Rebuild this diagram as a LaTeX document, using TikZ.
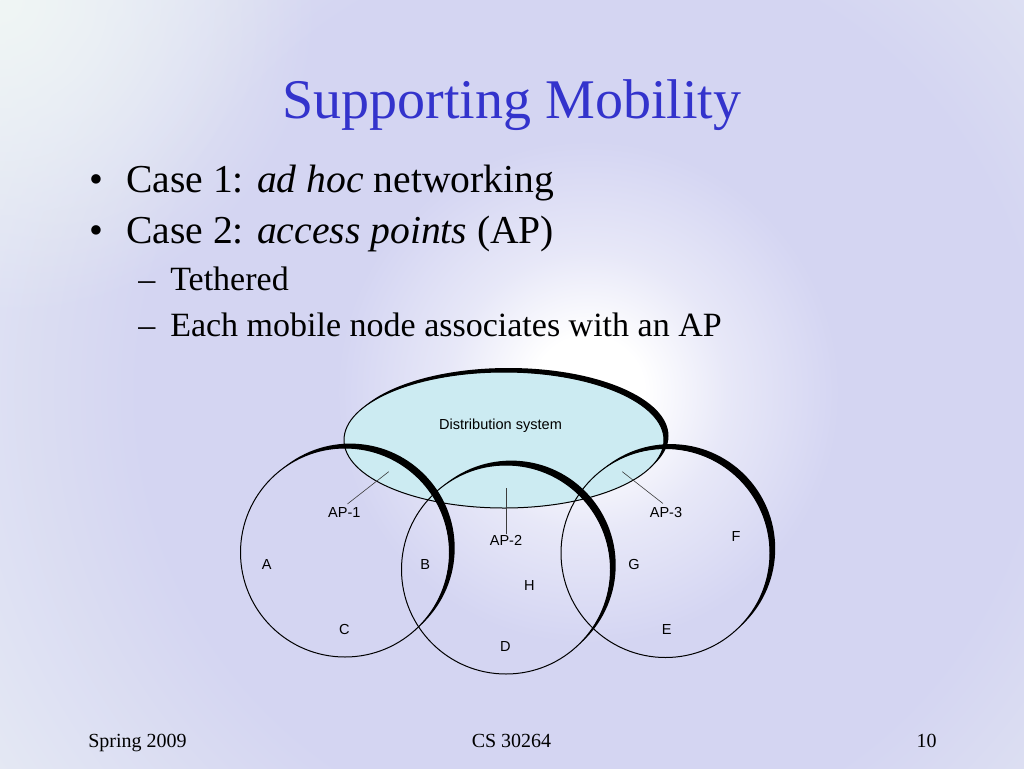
\documentclass[tikz,border=0pt]{standalone}
\usepackage{fontspec}
\setmainfont{Liberation Serif}
\newfontfamily\labelsans{Liberation Sans}
\usepackage{xcolor}
\usetikzlibrary{fadings}
\definecolor{slidebg}{RGB}{212,213,242}
\definecolor{cornerbg}{RGB}{240,246,245}
\definecolor{edgebg}{RGB}{228,232,243}
\definecolor{titleblue}{RGB}{51,51,204}
\definecolor{dsfill}{RGB}{204,235,242}
\pgfdeclareradialshading{slidewash}{\pgfpoint{0bp}{0bp}}{color(0bp)=(white); color(2bp)=(white); color(5bp)=(white!45!slidebg); color(9bp)=(slidebg); color(16bp)=(slidebg); color(25bp)=(edgebg); color(50bp)=(edgebg)}
\tikzfading[name=cornerfade, inner color=transparent!0, outer color=transparent!100]

\begin{document}
\begin{tikzpicture}[x=0.75pt,y=0.75pt,yscale=-1,xscale=1,
  outline/.style={color=black, line width=0.75pt},
  rim/.style={fill=black},
  apline/.style={color={rgb, 255:red, 60; green, 60; blue, 60 }, line width=0.45pt},
  tag/.style={inner sep=0.75pt, font=\labelsans\fontsize{10.9}{13}\selectfont},
  bulletline/.style={anchor=base west, inner sep=0pt, font=\fontsize{29.7}{34}\selectfont},
  subline/.style={anchor=base west, inner sep=0pt, font=\fontsize{25.5}{30}\selectfont},
  footline/.style={inner sep=0pt, font=\fontsize{15}{18}\selectfont}]
\useasboundingbox (0,0) rectangle (1024,768);

%Shape: Background
\begin{scope}
\clip (0,0) rectangle (1024,768);
\fill [edgebg] (0,0) rectangle (1024,768);
\shade [shading=slidewash] (588,392) circle (700);
\fill [cornerbg, path fading=cornerfade] (0,0) circle (320);
\end{scope}

% Text Node
\node [anchor=base, inner sep=0pt, color=titleblue, font=\fontsize{42}{50}\selectfont] (title) at (512,118) {Supporting Mobility};
% Text Node
\node [bulletline] (dot1) at (89,192) {•};
\node [bulletline] (case1) at (126,192) {Case 1: \textit{ad hoc} networking};
% Text Node
\node [bulletline] (dot2) at (89,243.5) {•};
\node [bulletline] (case2) at (126,243.5) {Case 2: \textit{access points} (AP)};
% Text Node
\node [subline] (dash1) at (138,290.5) {–};
\node [subline] (tethered) at (170,290.5) {Tethered};
% Text Node
\node [subline] (dash2) at (138,336.5) {–};
\node [subline] (assoc) at (170,336.5) {Each mobile node associates with an AP};

%Shape: Ellipse
\fill [dsfill] (504,440) ellipse [x radius=160, y radius=68];
\begin{scope}[even odd rule]
\clip (0,0) rectangle (1024,768) (504,440) ellipse [x radius=160, y radius=68];
\fill [rim] (508.5,436) ellipse [x radius=160, y radius=68];
\end{scope}
\draw [outline] (504,440) ellipse [x radius=160, y radius=68];

%Shape: Circle
\begin{scope}[even odd rule]
\clip (0,0) rectangle (1024,768) (345,552.5) circle (104.5);
\fill [rim] (350.2,548.1) circle (104.5);
\end{scope}
\draw [outline] (345,552.5) circle (104.5);
%Shape: Circle
\begin{scope}[even odd rule]
\clip (0,0) rectangle (1024,768) (506,569.5) circle (104.5);
\fill [rim] (511.2,565.1) circle (104.5);
\end{scope}
\draw [outline] (506,569.5) circle (104.5);
%Shape: Circle
\begin{scope}[even odd rule]
\clip (0,0) rectangle (1024,768) (665.5,553) circle (104.5);
\fill [rim] (670.7,548.6) circle (104.5);
\end{scope}
\draw [outline] (665.5,553) circle (104.5);

% Text Node
\node [tag, anchor=base] (dist) at (500.5,429.5) {Distribution system};
% Text Node
\node [tag] (ap1) at (344.3,512.7) {AP-1};
\node [tag] (ap2) at (506,540.7) {AP-2};
\node [tag] (ap3) at (666,512.3) {AP-3};
% Text Node
\node [tag] (A) at (266.7,564) {A};
\node [tag] (B) at (425.3,564) {B};
\node [tag] (C) at (344.3,629) {C};
\node [tag] (D) at (505.3,646.7) {D};
\node [tag] (E) at (666.7,629) {E};
\node [tag] (F) at (736,536.7) {F};
\node [tag] (G) at (634,564) {G};
\node [tag] (H) at (529.3,585) {H};

%Straight Lines
\coordinate (ap1tip) at (388.7,471.7);
\coordinate (ap2tip) at (506,488.3);
\coordinate (ap3tip) at (622.3,471.7);
\draw [apline, shorten <=3pt] (ap1.north) -- (ap1tip);
\draw [apline] (ap2.north) -- (ap2tip);
\draw [apline, shorten <=3pt] (ap3.north) -- (ap3tip);

% Text Node
\node [footline, anchor=base west] (season) at (88,747.5) {Spring 2009};
\node [footline, anchor=base] (course) at (511.5,747.5) {CS 30264};
\node [footline, anchor=base east] (pageno) at (937,747.5) {10};

\end{tikzpicture}
\end{document}
